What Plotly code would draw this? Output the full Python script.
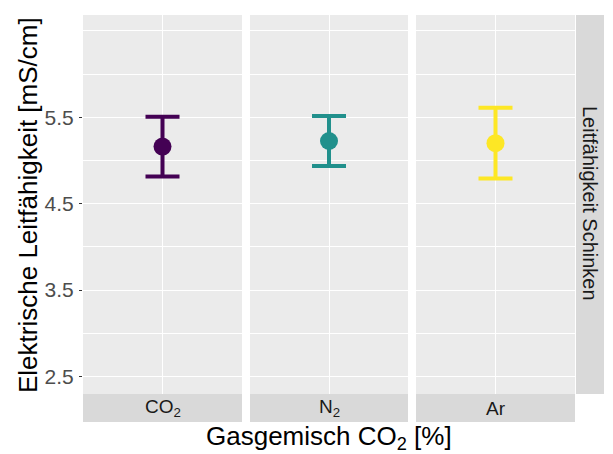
import plotly.graph_objects as go

# Data
gases = ["CO<sub>2</sub>", "N<sub>2</sub>", "Ar"]
means = [5.16, 5.225, 5.20]
errors = [0.345, 0.29, 0.41]
colors = ["#440154", "#21908C", "#FDE725"]
y_tickvals = [2.5, 3.5, 4.5, 5.5]
y_ticktext = ["2.5", "3.5", "4.5", "5.5"]
y_minor = [3.0, 4.0, 5.0, 6.0, 6.5]
facet_label = "Leitfähigkeit Schinken"
x_title = "Gasgemisch CO<sub>2</sub> [%]"
y_title = "Elektrische Leitfähigkeit [mS/cm]"

W, H = 613, 454
ml, mr, mt, mb = 83, 38, 15, 60
pw = W - ml - mr
ph = H - mt - mb
FONT = "Liberation Sans, Arial, sans-serif"

panels_px = [(83, 242), (250, 408), (416, 575)]
domains = [((a - ml) / pw, (b - ml) / pw) for a, b in panels_px]

fig = go.Figure()
yrange = [2.297, 6.683]

for i, (g, m, e, c) in enumerate(zip(gases, means, errors, colors)):
    xa = "x" if i == 0 else f"x{i+1}"
    ya = "y" if i == 0 else f"y{i+1}"
    fig.add_trace(go.Scatter(
        x=[g], y=[m], xaxis=xa, yaxis=ya, mode="markers",
        marker=dict(color=c, size=18, line=dict(width=0)),
        error_y=dict(type="data", array=[e], color=c, thickness=4, width=17),
        showlegend=False, cliponaxis=False, hoverinfo="skip",
    ))
    xkey = "xaxis" if i == 0 else f"xaxis{i+1}"
    ykey = "yaxis" if i == 0 else f"yaxis{i+1}"
    fig.layout[xkey] = dict(
        domain=list(domains[i]), anchor=ya, type="category",
        range=[-0.6, 0.6], showticklabels=False, ticks="",
        showgrid=True, gridcolor="white", gridwidth=1.2, zeroline=False,
        showline=False, fixedrange=True,
    )
    yax = dict(
        domain=[0, 1], anchor=xa, range=yrange,
        tickvals=y_tickvals, ticktext=y_ticktext,
        showgrid=True, gridcolor="white", gridwidth=1.2, zeroline=False,
        showline=False, fixedrange=True,
        minor=dict(tickvals=y_minor, showgrid=True, gridcolor="white",
                   gridwidth=0.6, ticks=""),
    )
    if i == 0:
        yax.update(ticks="outside", ticklen=3, tickwidth=1, tickcolor="#333333",
                   tickfont=dict(family=FONT, size=21, color="#4D4D4D"),
                   ticklabelstandoff=1)
    else:
        yax.update(matches="y", showticklabels=False, ticks="")
    fig.layout[ykey] = yax

shapes = []
annotations = []
strip_h = 28 / ph
for i, (d0, d1) in enumerate(domains):
    shapes.append(dict(type="rect", xref="paper", yref="paper",
                       x0=d0, x1=d1, y0=-strip_h, y1=0,
                       fillcolor="#D9D9D9", line=dict(width=0), layer="below"))
    annotations.append(dict(text=gases[i], xref="paper", yref="paper",
                            x=(d0 + d1) / 2, y=-strip_h / 2, showarrow=False,
                            xanchor="center", yanchor="middle",
                            font=dict(family=FONT, size=19, color="#1A1A1A")))
# right strip
rx0 = (576 - ml) / pw
rx1 = (604 - ml) / pw
shapes.append(dict(type="rect", xref="paper", yref="paper",
                   x0=rx0, x1=rx1, y0=0, y1=1,
                   fillcolor="#D9D9D9", line=dict(width=0), layer="below"))
annotations.append(dict(text=facet_label, xref="paper", yref="paper",
                        x=(rx0 + rx1) / 2, y=(H - mb - 204) / ph, showarrow=False,
                        textangle=90, xanchor="center", yanchor="middle",
                        font=dict(family=FONT, size=20, color="#1A1A1A")))
# axis titles
annotations.append(dict(text=y_title, xref="paper", yref="paper",
                        x=(28 - ml) / pw, y=(H - mb - 205) / ph, showarrow=False,
                        textangle=-90, xanchor="center", yanchor="middle",
                        font=dict(family=FONT, size=26, color="black")))
annotations.append(dict(text=x_title, xref="paper", yref="paper",
                        x=(329 - ml) / pw, y=(H - mb - 437) / ph,
                        showarrow=False, xanchor="center", yanchor="middle",
                        font=dict(family=FONT, size=26, color="black")))

fig.update_layout(
    width=W, height=H,
    margin=dict(l=ml, r=mr, t=mt, b=mb, pad=0),
    plot_bgcolor="#EBEBEB", paper_bgcolor="white",
    shapes=shapes, annotations=annotations,
    font=dict(family=FONT), hovermode=False,
)

fig.write_html("out.html", config={"displayModeBar": False},
               post_script="document.body.style.margin='0';document.body.style.overflow='hidden';")
